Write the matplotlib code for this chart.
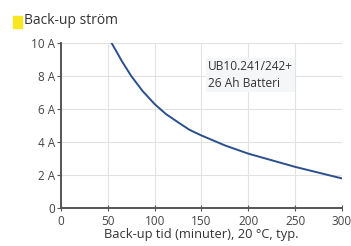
import matplotlib
matplotlib.use("Agg")
import matplotlib.pyplot as plt
from matplotlib.patches import Rectangle

plt.rcParams['font.family'] = ['Open Sans', 'DejaVu Sans']

# backup time (minutes) vs. current (A)
minutes = [54, 65, 75, 87, 100, 112, 125, 137, 150, 175, 200, 225, 250, 275, 300]
current = [10.0, 8.9, 8.0, 7.1, 6.3, 5.7, 5.2, 4.75, 4.4, 3.8, 3.3, 2.9, 2.5, 2.15, 1.8]

x_ticks = [0, 50, 100, 150, 200, 250, 300]
y_ticks = [0, 2, 4, 6, 8, 10]
y_labels = ['0', '2 A', '4 A', '6 A', '8 A', '10 A']

fig = plt.figure(figsize=(3.51, 2.46), dpi=100)
ax = fig.add_axes([0.174, 0.154, 0.8, 0.671])

ax.plot(minutes, current, color='#2b4f8c', lw=1.4, solid_capstyle='round',
        solid_joinstyle='round')

ax.set_xlim(0, 300)
ax.set_ylim(0, 10)
ax.set_xticks(x_ticks)
ax.set_yticks(y_ticks)
ax.set_yticklabels(y_labels)
ax.grid(True, color='#e2e2e2', lw=0.8)
ax.set_axisbelow(True)

for s in ['top', 'right']:
    ax.spines[s].set_visible(False)
for s in ['left', 'bottom']:
    ax.spines[s].set_color('#555555')
    ax.spines[s].set_linewidth(1.4)

ax.tick_params(axis='both', colors='#555555', labelcolor='#444444',
               labelsize=8.5, length=3, width=0.8, pad=1.5)
ax.tick_params(axis='x', direction='inout', length=4, pad=3)

ax.set_xlabel('Back-up tid (minuter), 20 °C, typ.', fontsize=9.3,
              color='#333333', labelpad=0)

ax.text(157, 8.95, 'UB10.241/242+\n26 Ah Batteri', fontsize=8.6,
        color='#333333', linespacing=1.35, va='top',
        bbox=dict(facecolor='#f4f6f8', edgecolor='none', pad=1.5))

# header with yellow marker
fig.patches.append(Rectangle((13 / 351, 1 - 28 / 246), 9 / 351, 12 / 246,
                             transform=fig.transFigure, color='#f7e620',
                             zorder=3))
fig.text(24 / 351, 1 - 21 / 246, 'Back-up ström', fontsize=10,
         color='#333333', va='center')

fig.savefig('out.png', dpi=100, facecolor='white')
